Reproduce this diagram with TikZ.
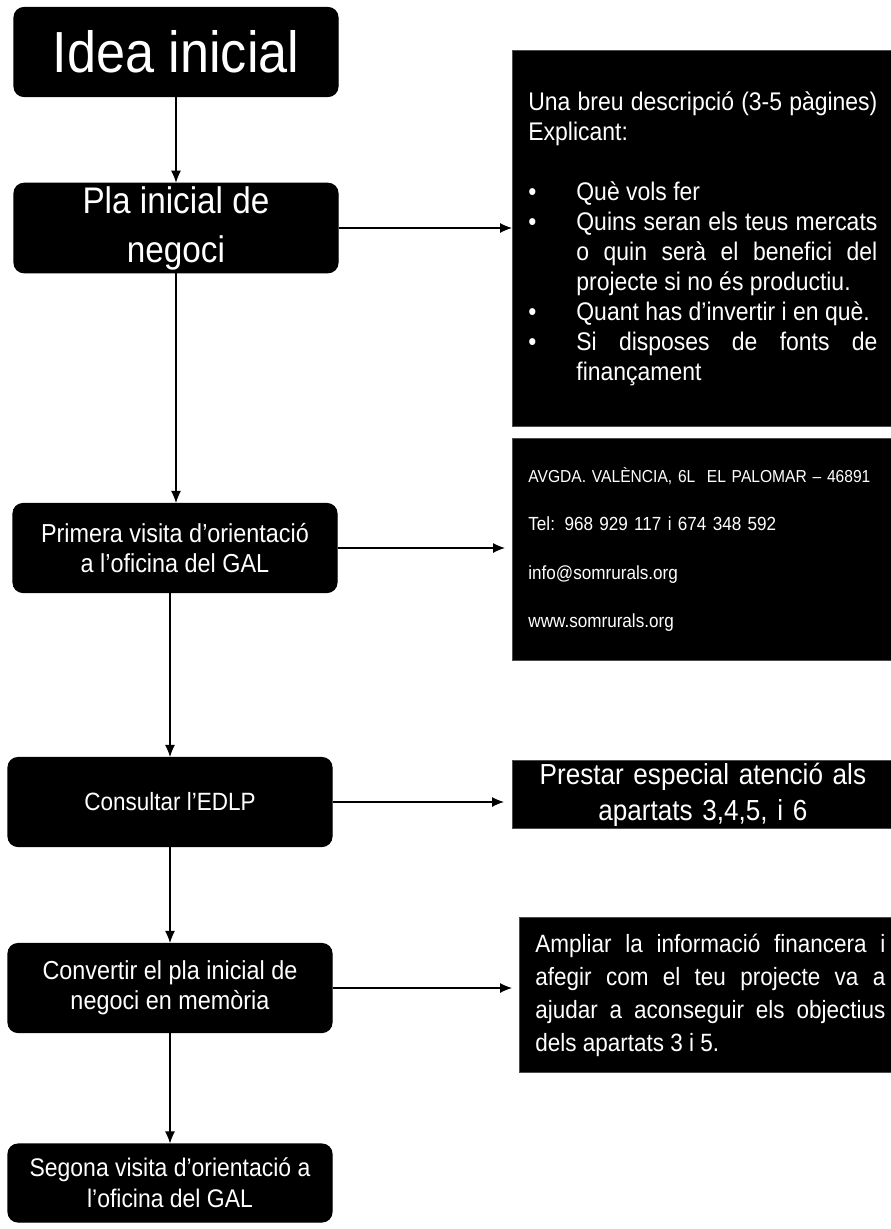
\documentclass[tikz,border=0pt]{standalone}
\usepackage{fontspec}
\setmainfont{Liberation Sans}[FakeStretch=0.9]
\usetikzlibrary{arrows.meta}
\newcommand\bulitem[1]{\par\noindent\hangindent=48pt\hangafter=1\makebox[48pt][l]{\textbullet}#1}
\begin{document}
\begin{tikzpicture}[x=1pt,y=-1pt, line width=1.1pt,
  >={Latex[length=12pt,width=10pt]},
  stepbox/.style={draw=black, fill=black, text=white, rounded corners=10pt,
    minimum width=324pt, minimum height=89pt, align=center, inner sep=3pt},
  infobox/.style={draw=black!70, line width=0.8pt, fill=black, text=white,
    anchor=north west, inner xsep=16pt, inner ysep=0pt}]

\useasboundingbox (0,0) rectangle (891,1229);
\clip (0,0) rectangle (891,1229);

% ===== Left column: steps =====
\node[stepbox, font=\fontsize{58}{60}\selectfont] (idea) at (176,52) {Idea inicial};
\node[stepbox, font=\fontsize{37}{49}\selectfont] (pla) at (176,228) {Pla inicial de\\negoci};
\node[stepbox, font=\fontsize{26}{30}\selectfont] (primera) at (175,548) {Primera visita d’orientació\\a l’oficina del GAL};
\node[stepbox, font=\fontsize{25}{30}\selectfont] (consulta) at (170,802) {Consultar l’EDLP};
\node[stepbox, font=\fontsize{26}{30}\selectfont] (memoria) at (170,988) {Convertir el pla inicial de\\negoci en memòria};
\node[stepbox, minimum height=78pt, font=\fontsize{25.5}{31}\selectfont] (segona) at (170,1183) {Segona visita d’orientació a\\l’oficina del GAL};

% ===== Right column: notes =====
\node[infobox, text width=349pt, minimum height=376pt, align=justify,
  font=\fontsize{25.5}{30}\selectfont] (desc) at (512,50) {%
  Una breu descripció (3-5 pàgines)\linebreak Explicant:\par\vspace{30pt}
  \bulitem{Què vols fer}
  \bulitem{Quins seran els teus mercats\linebreak o quin serà el benefici del\linebreak projecte si no és productiu.}
  \bulitem{Quant has d’invertir i en què.}
  \bulitem{Si disposes de fonts de\linebreak finançament}\par};
\node[infobox, text width=349pt, minimum height=222pt, align=left,
  font=\fontsize{19}{48.5}\selectfont] (contacte) at (512,438) {%
  \resizebox{342pt}{!}{AVGDA. VALÈNCIA, 6L\ \ EL PALOMAR – 46891}\\Tel: 968 929 117 i 674 348 592\\info@somrurals.org\\www.somrurals.org};
\node[infobox, text width=349pt, minimum height=68pt, align=center,
  font=\fontsize{29}{36}\selectfont] (edlp) at (512,760) {Prestar especial atenció als\\apartats 3,4,5, i 6};
\node[infobox, text width=350pt, minimum height=155pt, align=justify,
  font=\fontsize{25}{33}\selectfont] (financ) at (519,917) {%
  Ampliar la informació financera i\linebreak afegir com el teu projecte va a\linebreak ajudar a aconseguir els objectius\linebreak dels apartats 3 i 5.\par};

% ===== Connectors =====
\draw[->] (idea) -- (pla);
\draw[->] (pla.south) -- (pla.south |- primera.north);
\draw[->] (primera.south -| consulta.north) -- (consulta.north);
\draw[->] (consulta) -- (memoria);
\draw[->] (memoria) -- (segona);

\draw[->] (pla.east) -- (pla.east -| desc.west);
\draw[->, shorten >=7pt] (primera.east) -- (primera.east -| contacte.west);
\draw[->, shorten >=8pt] (consulta.east) -- (consulta.east -| edlp.west);
\draw[->, shorten >=7pt] (memoria.east) -- (memoria.east -| financ.west);

\end{tikzpicture}
\end{document}
